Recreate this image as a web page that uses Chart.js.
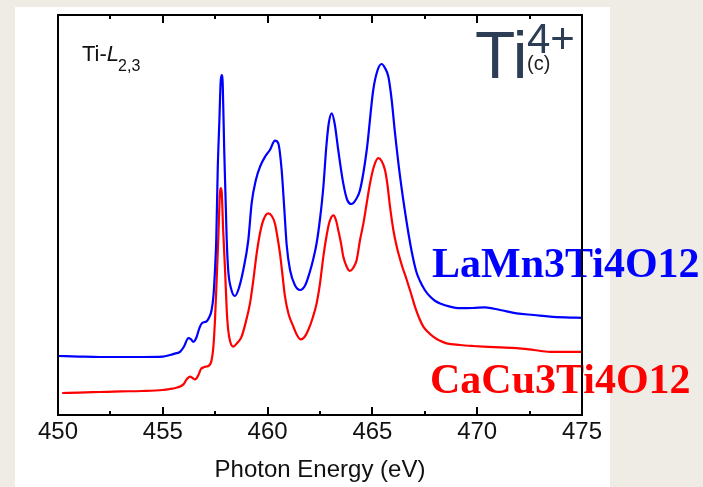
<!DOCTYPE html>
<html>
<head>
<meta charset="utf-8">
<script src="https://cdn.jsdelivr.net/npm/chart.js@4.4.0/dist/chart.umd.min.js"></script>
<style>
  html, body { margin: 0; padding: 0; }
  body { width: 703px; height: 487px; background: #efece6; position: relative; overflow: hidden; }
  #panel { position: absolute; left: 15px; top: 7px; width: 595px; height: 480px; background: #fff; }
  #xas { position: absolute; left: 0; top: 0; }
</style>
</head>
<body>
<div id="panel"></div>
<canvas id="xas" width="703" height="487"></canvas>
<script>
// Ti L2,3-edge XAS, intensity in arbitrary units (curves offset)
var lmtoEnergy = [450.0, 451.0, 452.0, 453.0, 454.0, 455.0, 455.34, 455.6, 455.82, 456.0,
  456.22, 456.35, 456.46, 456.6, 456.75, 456.86, 457.0, 457.09, 457.22, 457.33,
  457.42, 457.49, 457.55, 457.62, 457.7, 457.76, 457.81, 457.86, 457.93, 458.05,
  458.12, 458.25, 458.44, 458.6, 458.84, 459.08, 459.24, 459.44, 459.64, 459.9,
  460.11, 460.35, 460.51, 460.67, 460.8, 460.91, 461.07, 461.3, 461.55, 461.8,
  462.0, 462.18, 462.34, 462.5, 462.66, 462.8, 462.92, 463.06, 463.2, 463.37,
  463.61, 463.8, 464.0, 464.2, 464.41, 464.73, 465.04, 465.25, 465.44, 465.6,
  465.76, 465.92, 466.08, 466.32, 466.64, 466.87, 467.1, 467.27, 467.5, 467.75,
  468.0, 468.23, 468.7, 469.18, 469.8, 470.37, 471.09, 471.88, 472.7, 473.47,
  474.2, 475.0];
var lmtoIntensity = [14.75, 14.6, 14.5, 14.5, 14.5, 14.6, 15.0, 15.4, 15.8, 17.0,
  19.2, 18.9, 18.3, 19.3, 21.8, 22.9, 23.25, 23.4, 24.5, 26.25,
  30.0, 36.25, 43.75, 61.25, 73.75, 83.25, 85.0, 82.5, 66.25, 43.75,
  36.25, 31.75, 29.75, 31.25, 36.25, 43.75, 53.0, 58.75, 62.1, 64.75,
  66.25, 68.6, 67.9, 61.25, 51.25, 42.5, 36.25, 32.5, 31.25, 32.5,
  35.5, 39.0, 43.0, 49.0, 57.0, 67.0, 73.0, 75.4, 72.8, 66.25,
  57.9, 53.75, 52.75, 53.75, 56.25, 66.25, 81.25, 86.25, 87.75, 86.75,
  84.6, 78.75, 70.4, 59.6, 48.0, 41.0, 35.75, 33.5, 31.25, 29.6,
  28.5, 27.9, 27.1, 26.7, 26.75, 26.9, 26.25, 25.4, 25.0, 24.6,
  24.4, 24.3];

var cctoEnergy = [450.2, 451.0, 452.0, 453.0, 454.0, 455.0, 455.34, 455.6, 455.82, 456.0,
  456.15, 456.3, 456.42, 456.54, 456.7, 456.82, 456.93, 457.05, 457.17, 457.33,
  457.42, 457.49, 457.57, 457.65, 457.72, 457.76, 457.81, 457.88, 457.97, 458.05,
  458.12, 458.22, 458.36, 458.55, 458.76, 458.96, 459.16, 459.32, 459.48, 459.64,
  459.8, 460.03, 460.2, 460.35, 460.47, 460.59, 460.71, 460.83, 461.0, 461.23,
  461.4, 461.58, 461.76, 461.94, 462.15, 462.34, 462.5, 462.66, 462.82, 462.95,
  463.14, 463.26, 463.37, 463.5, 463.61, 463.78, 463.93, 464.08, 464.25, 464.41,
  464.57, 464.73, 464.89, 465.08, 465.28, 465.44, 465.6, 465.72, 465.84, 466.0,
  466.16, 466.4, 466.64, 466.85, 467.03, 467.23, 467.43, 467.65, 467.9, 468.2,
  468.54, 469.18, 469.8, 470.29, 471.1, 471.88, 472.7, 473.47, 474.2, 475.0];
var cctoIntensity = [5.5, 5.6, 5.75, 5.9, 6.0, 6.25, 6.5, 6.75, 7.1, 7.75,
  9.0, 9.6, 9.25, 8.9, 10.0, 11.5, 11.9, 12.1, 12.25, 13.75,
  17.5, 23.75, 33.75, 44.6, 55.0, 56.7, 55.75, 46.25, 36.25, 26.25,
  21.25, 18.25, 17.1, 18.0, 19.6, 23.25, 27.9, 33.75, 40.4, 45.5,
  48.75, 50.4, 49.75, 47.9, 44.5, 40.4, 35.0, 29.6, 25.25, 22.1,
  20.0, 18.9, 19.5, 21.25, 24.25, 27.9, 32.9, 39.6, 45.0, 48.25,
  49.9, 48.75, 46.25, 43.0, 39.6, 37.0, 36.0, 36.75, 38.75, 43.75,
  47.9, 53.0, 58.0, 62.25, 64.2, 63.5, 61.25, 57.5, 52.1, 46.25,
  42.1, 37.5, 33.75, 30.25, 27.1, 24.25, 22.1, 20.75, 19.6, 18.6,
  17.9, 17.5, 17.25, 17.1, 16.9, 16.7, 16.25, 15.8, 15.8, 15.8];

var seriesNames = ['LaMn3Ti4O12', 'CaCu3Ti4O12'];
var xTicks = [450, 455, 460, 465, 470, 475];

function toPoints(xs, ys) {
  return xs.map(function(x, i) { return { x: x, y: ys[i] }; });
}

// labels, edge name and frame with inward ticks
var decorations = {
  id: 'decorations',
  afterDatasetsDraw: function(chart) {
    var ctx = chart.ctx;
    var area = chart.chartArea;
    var xs = chart.scales.x;
    ctx.save();

    ctx.textBaseline = 'alphabetic';
    ctx.textAlign = 'left';
    ctx.fillStyle = '#111';
    ctx.font = '22px "Liberation Sans", Arial, sans-serif';
    ctx.fillText('Ti-', 82, 61);
    var w = ctx.measureText('Ti-').width;
    ctx.font = 'italic 22px "Liberation Sans", Arial, sans-serif';
    ctx.fillText('L', 82 + w, 61);
    w += ctx.measureText('L').width;
    ctx.font = '16px "Liberation Sans", Arial, sans-serif';
    ctx.fillText('2,3', 82 + w - 1, 71);

    ctx.fillStyle = '#2c3d55';
    ctx.font = '66px "Liberation Sans", Arial, sans-serif';
    ctx.fillText('Ti', 475, 78);
    ctx.font = '42px "Liberation Sans", Arial, sans-serif';
    ctx.fillText('4+', 527, 53);
    ctx.fillStyle = '#222';
    ctx.font = '20px "Liberation Sans", Arial, sans-serif';
    ctx.fillText('(c)', 527, 70);

    ctx.font = 'bold 42px "Liberation Serif", "Times New Roman", serif';
    ctx.fillStyle = '#0000ff';
    ctx.fillText(seriesNames[0], 432, 277);
    ctx.fillStyle = '#ff0000';
    ctx.fillText(seriesNames[1], 430, 393);

    ctx.strokeStyle = '#000';
    ctx.lineWidth = 2;
    ctx.strokeRect(area.left, area.top, area.right - area.left, area.bottom - area.top);
    ctx.beginPath();
    for (var v = xs.min; v <= xs.max + 0.01; v += 2.5) {
      var px = Math.round(xs.getPixelForValue(v));
      var len = (v % 5 === 0) ? 8 : 4;
      ctx.moveTo(px, area.bottom);
      ctx.lineTo(px, area.bottom - len);
      ctx.moveTo(px, area.top);
      ctx.lineTo(px, area.top + len);
    }
    ctx.stroke();
    ctx.restore();
  }
};

new Chart(document.getElementById('xas').getContext('2d'), {
  type: 'line',
  data: {
    datasets: [{
      label: seriesNames[0],
      data: toPoints(lmtoEnergy, lmtoIntensity),
      borderColor: '#0000ff',
      borderWidth: 2.2,
      pointRadius: 0,
      cubicInterpolationMode: 'monotone'
    }, {
      label: seriesNames[1],
      data: toPoints(cctoEnergy, cctoIntensity),
      borderColor: '#ff0000',
      borderWidth: 2.2,
      pointRadius: 0,
      cubicInterpolationMode: 'monotone'
    }]
  },
  options: {
    responsive: false,
    animation: false,
    devicePixelRatio: 1,
    layout: { padding: { left: 58, right: 121, top: 15, bottom: 0 } },
    plugins: {
      legend: { display: false },
      tooltip: { enabled: false }
    },
    scales: {
      x: {
        type: 'linear',
        min: 450,
        max: 475,
        afterFit: function(scale) { scale.height = 72; },
        afterBuildTicks: function(scale) {
          scale.ticks = xTicks.map(function(v) { return { value: v }; });
        },
        grid: { display: false, drawTicks: false },
        border: { display: false },
        ticks: {
          padding: 3,
          maxRotation: 0,
          color: '#111',
          font: { family: '"Liberation Sans", Arial, sans-serif', size: 24 }
        },
        title: {
          display: true,
          text: 'Photon Energy (eV)',
          color: '#111',
          padding: { top: 2, bottom: 2 },
          font: { family: '"Liberation Sans", Arial, sans-serif', size: 24 }
        }
      },
      y: {
        display: false,
        min: 0,
        max: 100
      }
    }
  },
  plugins: [decorations]
});
</script>
</body>
</html>
